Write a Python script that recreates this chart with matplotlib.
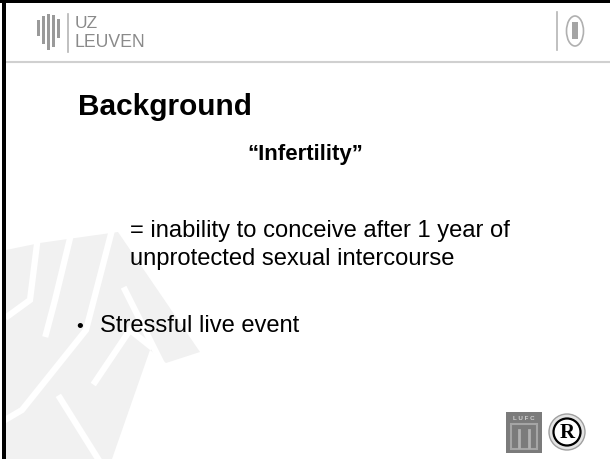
import matplotlib
matplotlib.use("Agg")
import matplotlib.pyplot as plt
from matplotlib.patches import Polygon, Rectangle, Ellipse, Circle

# ---- slide content ----
title = "Background"
subtitle = "\u201cInfertility\u201d"
definition_lines = ["= inability to conceive after 1 year of",
                    "unprotected sexual intercourse"]
bullets = ["Stressful live event"]
logo_lines = ["UZ", "LEUVEN"]

W, H = 610, 459
fig = plt.figure(figsize=(W / 100, H / 100), dpi=100)
ax = fig.add_axes([0, 0, 1, 1])
ax.set_xlim(0, W)
ax.set_ylim(H, 0)
ax.axis("off")
fig.patch.set_facecolor("white")

FONT = "Liberation Sans"

# faint background fan (decoration): envelope with white cuts
bg = "#f1f1f1"
envelope = [(6, 250), (40, 243), (75, 238), (118, 232), (200, 352), (166, 363),
            (150, 350), (112, 459), (6, 459)]
ax.add_patch(Polygon(envelope, closed=True, facecolor=bg, edgecolor="none", zorder=0))
cuts = [
    [(38, 236), (30, 300), (8, 316)],
    [(72, 230), (55, 300), (46, 334)],
    [(112, 230), (86, 330), (22, 410), (5, 420)],
    [(60, 398), (100, 462)],
    [(150, 346), (130, 330), (95, 382)],
    [(125, 290), (162, 364)],
]
for c in cuts:
    xs, ys = zip(*c)
    ax.plot(xs, ys, color="white", lw=4.5, solid_joinstyle="miter", zorder=1)

# borders
ax.add_patch(Rectangle((2, 0), 4, H, facecolor="black", edgecolor="none", zorder=5))
ax.add_patch(Rectangle((0, 0), W, 3, facecolor="black", edgecolor="none", zorder=5))
ax.plot([6, W], [62, 62], color="#d0d0d0", lw=1.5, zorder=4)

# UZ Leuven logo (icon approximation)
g = "#9a9a9a"
for x0, top, bot in [(37, 20, 36), (42, 16, 44), (47, 14, 50), (52, 15, 47), (57, 19, 38)]:
    ax.add_patch(Rectangle((x0, top), 3.2, bot - top, facecolor=g, edgecolor="none", zorder=3))
ax.plot([68, 68], [14, 52], color="#b5b5b5", lw=1.2)
ax.text(75, 28, logo_lines[0], fontsize=12.5, color="#8a8a8a", family=FONT, va="baseline")
ax.text(74, 47, logo_lines[1], fontsize=12.7, color="#8a8a8a", family=FONT, va="baseline")

# top-right emblem
ax.plot([557, 557], [12, 50], color="#b5b5b5", lw=1.2)
ax.add_patch(Ellipse((575, 31), 17, 30, facecolor="none", edgecolor="#b0b0b0", lw=1.2))
ax.add_patch(Rectangle((572, 22), 6, 17, facecolor="#a5a5a5", edgecolor="none"))

# texts
ax.text(78, 115, title, fontsize=21.4, fontweight="bold", family=FONT, va="baseline")
ax.text(305, 160, subtitle, fontsize=16, fontweight="bold", family=FONT,
        va="baseline", ha="center")
for i, line in enumerate(definition_lines):
    ax.text(130, 237 + 28 * i, line, fontsize=17.1, family=FONT, va="baseline")
for i, b in enumerate(bullets):
    ax.text(76, 332 + 40 * i, "\u2022", fontsize=14, family=FONT, va="baseline")
    ax.text(100, 332 + 40 * i, b, fontsize=17.1, family=FONT, va="baseline")

# bottom-right logos
ax.add_patch(Rectangle((506, 412), 36, 41, facecolor="#7b7b7b", edgecolor="none"))
ax.text(524, 419, "L U F C", fontsize=4.5, color="#d0d0d0", family=FONT,
        ha="center", va="center", fontweight="bold")
ax.add_patch(Rectangle((511, 424), 26, 25, facecolor="none", edgecolor="#a5a5a5", lw=1.5))
ax.plot([519, 519], [430, 447], color="#b0b0b0", lw=2)
ax.plot([529, 529], [430, 447], color="#b0b0b0", lw=2)
ax.add_patch(Circle((567, 432), 18, facecolor="#e4e4e4", edgecolor="#a0a0a0", lw=1))
ax.add_patch(Circle((567, 432), 13.5, facecolor="white", edgecolor="black", lw=1.6))
ax.text(567, 433, "R", fontsize=15, fontweight="bold", family="Liberation Serif",
        ha="center", va="center")

fig.savefig("out.png", dpi=100)
